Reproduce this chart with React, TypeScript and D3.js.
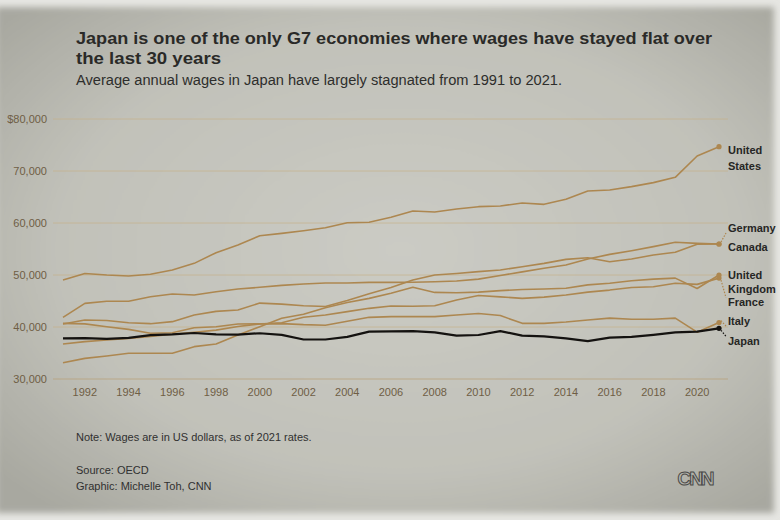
import React from "react";
import * as d3 from "d3";

const YEARS = [1991, 1992, 1993, 1994, 1995, 1996, 1997, 1998, 1999, 2000, 2001, 2002, 2003, 2004, 2005, 2006, 2007, 2008, 2009, 2010, 2011, 2012, 2013, 2014, 2015, 2016, 2017, 2018, 2019, 2020, 2021];

const UNITED_STATES = [49040, 50300, 50000, 49800, 50150, 50960, 52240, 54290, 55770, 57560, 58000, 58520, 59100, 60060, 60130, 61090, 62300, 62120, 62690, 63140, 63270, 63850, 63590, 64550, 66150, 66350, 66990, 67760, 68780, 72880, 74680];
const GERMANY = [41860, 44550, 44940, 44940, 45830, 46350, 46150, 46790, 47310, 47630, 48010, 48270, 48460, 48460, 48590, 48590, 48600, 48700, 48850, 49200, 49900, 50600, 51300, 51920, 53080, 53970, 54680, 55450, 56290, 56090, 55960];
const CANADA = [40580, 41350, 41250, 40830, 40640, 41030, 42310, 43010, 43270, 44600, 44400, 44100, 43950, 45100, 46400, 47600, 49040, 50000, 50300, 50640, 50960, 51600, 52240, 53000, 53330, 52560, 53080, 53850, 54360, 55900, 55960];
const UNITED_KINGDOM = [33140, 33970, 34420, 34940, 34940, 34940, 36220, 36730, 38460, 40060, 41670, 42450, 43700, 44700, 45500, 46500, 47630, 46650, 46600, 46700, 47000, 47200, 47300, 47440, 48100, 48400, 48900, 49200, 49400, 47400, 50000];
const FRANCE = [36730, 37180, 37500, 37800, 38200, 38600, 39000, 39400, 40100, 40580, 40830, 41860, 42310, 42950, 43590, 44040, 44000, 44100, 45200, 46050, 45800, 45500, 45750, 46150, 46700, 47100, 47600, 47750, 48400, 48200, 49400];
const ITALY = [40700, 40600, 40050, 39540, 38800, 38900, 39870, 40060, 40580, 40600, 40650, 40450, 40350, 41100, 41860, 41990, 42000, 42000, 42300, 42600, 42200, 40700, 40700, 40950, 41350, 41700, 41500, 41500, 41700, 39000, 40850];
const JAPAN = [37820, 37850, 37700, 37900, 38450, 38600, 38850, 38600, 38550, 38800, 38500, 37600, 37600, 38100, 39100, 39150, 39200, 38970, 38350, 38460, 39200, 38350, 38200, 37800, 37300, 37950, 38100, 38500, 38970, 39100, 39750];

const SERIES_NAMES = ["United States", "Germany", "Canada", "United Kingdom", "France", "Italy", "Japan"];
const SERIES_VALUES = [UNITED_STATES, GERMANY, CANADA, UNITED_KINGDOM, FRANCE, ITALY, JAPAN];

const Y_TICKS = [30000, 40000, 50000, 60000, 70000, 80000];
const X_TICKS = [1992, 1994, 1996, 1998, 2000, 2002, 2004, 2006, 2008, 2010, 2012, 2014, 2016, 2018, 2020];

const TITLE_LINES = ["Japan is one of the only G7 economies where wages have stayed flat over", "the last 30 years"];
const SUBTITLE = "Average annual wages in Japan have largely stagnated from 1991 to 2021.";
const NOTE = "Note: Wages are in US dollars, as of 2021 rates.";
const SOURCE = "Source: OECD";
const CREDIT = "Graphic: Michelle Toh, CNN";

// label layout (style, not data): label lines, offset of first line center from endpoint, line gap, connector
const LABEL_LAYOUT: Record<string, { lines: string[]; dy: number; gap: number; connector: boolean }> = {
  "United States": { lines: ["United", "States"], dy: 3.5, gap: 16, connector: false },
  Germany: { lines: ["Germany"], dy: -16, gap: 0, connector: true },
  Canada: { lines: ["Canada"], dy: 3, gap: 0, connector: false },
  "United Kingdom": { lines: ["United", "Kingdom"], dy: 0, gap: 14.5, connector: false },
  France: { lines: ["France"], dy: 24.5, gap: 0, connector: true },
  Italy: { lines: ["Italy"], dy: -1.5, gap: 0, connector: true },
  Japan: { lines: ["Japan"], dy: 13, gap: 0, connector: true },
};

const LINE_COLOR = "#ad8750";
const JAPAN_COLOR = "#141210";
const FONT = "'Liberation Sans', Arial, sans-serif";

export default function App() {
  const W = 780;
  const H = 520;
  const x = d3.scaleLinear().domain([1991, 2021]).range([63, 719]);
  const y = d3.scaleLinear().domain([30000, 80000]).range([379, 119]);
  const line = d3
    .line<number>()
    .x((_, i) => x(YEARS[i]))
    .y((d) => y(d));

  const lastYear = YEARS[YEARS.length - 1];

  return (
    <svg
      width={W}
      height={H}
      style={{ position: "absolute", left: 0, top: 0, display: "block" }}
      fontFamily={FONT}
    >
      <defs>
        <radialGradient id="bg" cx="52%" cy="48%" r="68%">
          <stop offset="0%" stopColor="#cbcbc4" />
          <stop offset="65%" stopColor="#c1c1b9" />
          <stop offset="100%" stopColor="#a8a8a0" />
        </radialGradient>
        <filter id="soft" x="-5%" y="-5%" width="110%" height="110%">
          <feGaussianBlur stdDeviation="3" />
        </filter>
      </defs>
      <rect x={0} y={0} width={W} height={H} fill="#e6e6e2" />
      <rect x={-4} y={7} width={778} height={506} fill="url(#bg)" filter="url(#soft)" />

      {/* title */}
      {TITLE_LINES.map((t, i) => (
        <text
          key={t}
          x={76}
          y={44 + i * 20}
          fontSize={17}
          fontWeight="bold"
          fill="#2a2a28"
          textLength={i === 0 ? 636 : 145}
          lengthAdjust="spacingAndGlyphs"
        >
          {t}
        </text>
      ))}
      <text x={76} y={85} fontSize={14} fill="#2e2e2c" textLength={486} lengthAdjust="spacingAndGlyphs">
        {SUBTITLE}
      </text>

      {/* gridlines */}
      {Y_TICKS.map((t) => (
        <g key={t}>
          <line
            x1={53}
            x2={728}
            y1={y(t)}
            y2={y(t)}
            stroke={t === 30000 ? "#b8a27c" : "#c6b086"}
            strokeWidth={t === 30000 ? 1 : 0.8}
            opacity={0.8}
          />
          <text x={47} y={y(t)} dy="0.35em" textAnchor="end" fontSize={11} fill="#6f5e45">
            {(t === 80000 ? "$" : "") + d3.format(",")(t)}
          </text>
        </g>
      ))}

      {/* x ticks */}
      {X_TICKS.map((t) => (
        <text key={t} x={x(t)} y={392} dy="0.35em" textAnchor="middle" fontSize={11} fill="#6f5e45">
          {t}
        </text>
      ))}

      {/* lines */}
      {SERIES_NAMES.map((name, si) => (
        <path
          key={name}
          d={line(SERIES_VALUES[si]) || ""}
          fill="none"
          stroke={name === "Japan" ? JAPAN_COLOR : LINE_COLOR}
          strokeWidth={name === "Japan" ? 2.2 : 1.6}
          strokeLinejoin="round"
        />
      ))}

      {/* end points, connectors and labels */}
      {SERIES_NAMES.map((name, si) => {
        const vals = SERIES_VALUES[si];
        const ex = x(lastYear);
        const ey = y(vals[vals.length - 1]);
        const lay = LABEL_LAYOUT[name];
        const ly = ey + lay.dy;
        const color = name === "Japan" ? JAPAN_COLOR : LINE_COLOR;
        return (
          <g key={name}>
            {lay.connector && (
              <line
                x1={ex + 2}
                y1={ey + (lay.dy > 0 ? 2 : -2)}
                x2={ex + 7}
                y2={ly + (lay.dy > 0 ? -5 : 5)}
                stroke={color}
                strokeWidth={1.2}
                strokeDasharray="1.5,1.5"
              />
            )}
            <circle cx={ex} cy={ey} r={2.6} fill={color} />
            {lay.lines.map((l, li) => (
              <text
                key={l}
                x={728}
                y={ly + li * lay.gap}
                dy="0.35em"
                fontSize={11}
                fontWeight="bold"
                fill="#262624"
              >
                {l}
              </text>
            ))}
          </g>
        );
      })}

      {/* footer */}
      <text x={76} y={437} dy="0.35em" fontSize={11} fill="#303030">
        {NOTE}
      </text>
      <text x={76} y={470} dy="0.35em" fontSize={11} fill="#303030">
        {SOURCE}
      </text>
      <text x={76} y={486} dy="0.35em" fontSize={11} fill="#303030">
        {CREDIT}
      </text>
      <text
        x={695}
        y={478}
        dy="0.35em"
        textAnchor="middle"
        fontSize={19}
        fontWeight="bold"
        fill="none"
        stroke="#4a4a48"
        strokeWidth={1}
        letterSpacing={-2}
      >
        CNN
      </text>
    </svg>
  );
}
